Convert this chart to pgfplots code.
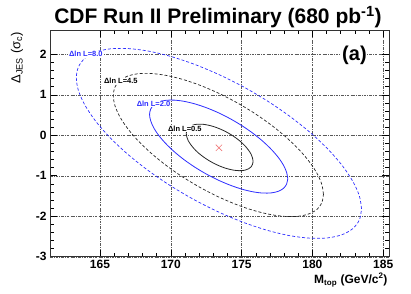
\documentclass[border=0pt]{standalone}
\usepackage{fontspec}
\setmainfont{Liberation Sans}
\usepackage{pgfplots}
\pgfplotsset{compat=1.18}
\definecolor{rootblue}{RGB}{45,45,255}
\definecolor{xred}{RGB}{240,120,120}
\begin{document}
\begin{tikzpicture}
\useasboundingbox (-50pt,-36.3pt) rectangle (361pt,256.7pt);
\begin{axis}[
  at={(0pt,0pt)}, anchor=south west,
  scale only axis, width=339pt, height=226.7pt,
  xmin=161.47, xmax=185.41, ymin=-3, ymax=2.6,
  xtick={165,170,175,180,185}, ytick={-3,-2,-1,0,1,2},
  minor x tick num=4, minor y tick num=4,
  xtick pos=both, ytick pos=both, tick align=inside,
  major tick length=7pt, minor tick length=4pt,
  tick style={black, line width=0.5pt},
  grid=major,
  major grid style={black!65, line width=0.35pt, dash pattern=on 2.5pt off 1.3pt on 0.5pt off 1.3pt},
  axis line style={black!80, line width=0.9pt},
  tick label style={font=\fontsize{12}{14}\selectfont\bfseries},
  /pgf/number format/assume math mode=true,
]
% Delta ln L = 0.5
\addplot[black!85, line width=0.8pt, smooth] coordinates {
(175.81,-0.645) (175.77,-0.560) (175.67,-0.467) (175.49,-0.369) (175.26,-0.269) (174.97,-0.169)
(174.63,-0.074) (174.26,0.014) (173.86,0.093) (173.45,0.160) (173.04,0.213) (172.64,0.250)
(172.27,0.271) (171.93,0.274) (171.64,0.260) (171.41,0.229) (171.23,0.182) (171.13,0.120)
(171.09,0.045) (171.13,-0.040) (171.23,-0.133) (171.41,-0.231) (171.64,-0.331) (171.93,-0.431)
(172.27,-0.526) (172.64,-0.614) (173.04,-0.693) (173.45,-0.760) (173.86,-0.813) (174.26,-0.850)
(174.63,-0.871) (174.97,-0.874) (175.26,-0.860) (175.49,-0.829) (175.67,-0.782) (175.77,-0.720)
(175.81,-0.645)};
% Delta ln L = 2.0
\addplot[rootblue, line width=0.8pt, smooth] coordinates {
(178.26,-1.074) (178.18,-0.917) (177.96,-0.741) (177.60,-0.551) (177.11,-0.353) (176.51,-0.152)
(175.82,0.044) (175.05,0.231) (174.23,0.402) (173.38,0.553) (172.53,0.678) (171.71,0.774)
(170.94,0.838) (170.25,0.868) (169.65,0.863) (169.16,0.824) (168.80,0.751) (168.58,0.646)
(168.50,0.514) (168.58,0.357) (168.80,0.181) (169.16,-0.009) (169.65,-0.207) (170.25,-0.408)
(170.94,-0.604) (171.71,-0.791) (172.53,-0.962) (173.38,-1.113) (174.23,-1.238) (175.05,-1.334)
(175.82,-1.398) (176.51,-1.428) (177.11,-1.423) (177.60,-1.384) (177.96,-1.311) (178.18,-1.206)
(178.26,-1.074)};
% Delta ln L = 4.5
\addplot[black!85, line width=0.7pt, smooth, dash pattern=on 3pt off 2pt] coordinates {
(180.78,-1.461) (180.67,-1.220) (180.34,-0.950) (179.79,-0.657) (179.05,-0.352) (178.13,-0.044)
(177.07,0.259) (175.90,0.546) (174.65,0.809) (173.36,1.041) (172.07,1.234) (170.82,1.382)
(169.65,1.480) (168.59,1.526) (167.67,1.519) (166.93,1.458) (166.38,1.346) (166.05,1.185)
(165.94,0.981) (166.05,0.740) (166.38,0.470) (166.93,0.177) (167.67,-0.128) (168.59,-0.436)
(169.65,-0.739) (170.82,-1.026) (172.07,-1.289) (173.36,-1.521) (174.65,-1.714) (175.90,-1.862)
(177.07,-1.960) (178.13,-2.006) (179.05,-1.999) (179.79,-1.938) (180.34,-1.826) (180.67,-1.665)
(180.78,-1.461)};
% Delta ln L = 8.0
\addplot[rootblue, line width=0.7pt, smooth, dash pattern=on 3pt off 2pt] coordinates {
(183.47,-1.820) (183.32,-1.501) (182.86,-1.142) (182.12,-0.754) (181.11,-0.348) (179.87,0.060)
(178.43,0.461) (176.84,0.843) (175.15,1.192) (173.40,1.499) (171.65,1.755) (169.96,1.951)
(168.37,2.082) (166.93,2.143) (165.69,2.133) (164.68,2.053) (163.94,1.904) (163.48,1.690)
(163.33,1.420) (163.48,1.101) (163.94,0.742) (164.68,0.354) (165.69,-0.052) (166.93,-0.460)
(168.37,-0.862) (169.96,-1.243) (171.65,-1.592) (173.40,-1.900) (175.15,-2.155) (176.84,-2.351)
(178.43,-2.482) (179.87,-2.543) (181.11,-2.534) (182.12,-2.453) (182.86,-2.304) (183.32,-2.091)
(183.47,-1.820)};
% best fit
\addplot[only marks, mark=x, mark size=4.5pt, xred, line width=0.6pt] coordinates {(173.4,-0.31)};
% contour labels
\node[anchor=west, fill=white, inner sep=0.6pt, text=rootblue, font=\fontsize{7.5}{9}\selectfont\bfseries] at (axis cs:162.76,2.0) {Δln L=8.0};
\node[anchor=west, fill=white, inner sep=0.6pt, text=black, font=\fontsize{7.5}{9}\selectfont\bfseries] at (axis cs:165.23,1.34) {Δln L=4.5};
\node[anchor=west, fill=white, inner sep=0.6pt, text=rootblue, font=\fontsize{7.5}{9}\selectfont\bfseries] at (axis cs:167.54,0.77) {Δln L=2.0};
\node[anchor=west, fill=white, inner sep=0.6pt, text=black, font=\fontsize{7.5}{9}\selectfont\bfseries] at (axis cs:169.75,0.16) {Δln L=0.5};
\node[fill=white, inner sep=0.8pt, font=\fontsize{20}{22}\selectfont\bfseries] at (axis cs:182.97,1.97) {(a)};
\end{axis}
\node[font=\fontsize{21}{24}\selectfont\bfseries] at (168pt,239.7pt) {CDF Run II Preliminary (680 pb\textsuperscript{-1})};
\node[rotate=90, anchor=east, font=\fontsize{13}{15}\selectfont] at (-33pt,228pt) {Δ\textsubscript{JES} (σ\textsubscript{c})};
\node[anchor=base east, font=\fontsize{12}{14}\selectfont\bfseries] at (341pt,-26.6pt) {M\textsubscript{top} (GeV/c\textsuperscript{2})};
\end{tikzpicture}
\end{document}
